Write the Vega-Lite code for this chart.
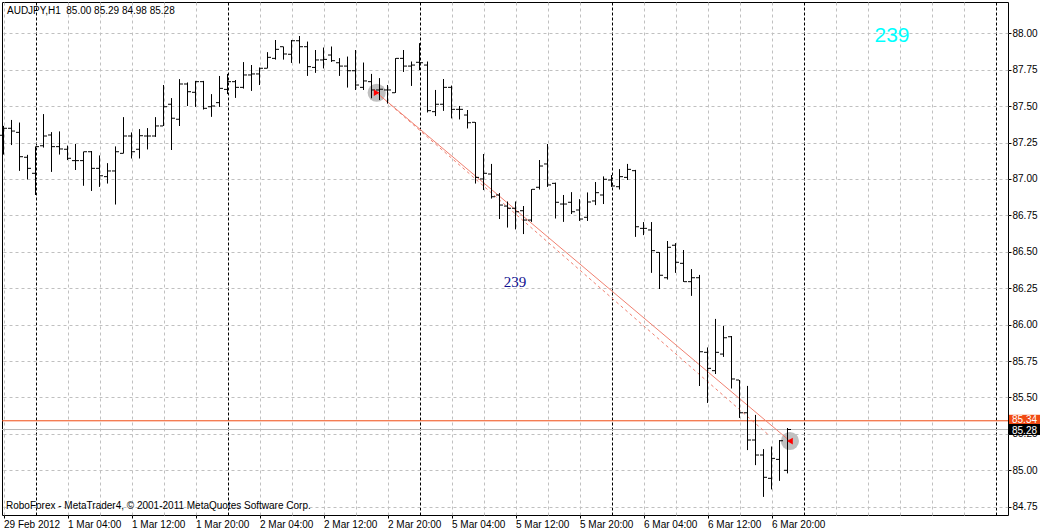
{
  "$schema": "https://vega.github.io/schema/vega-lite/v6.json",
  "width": 1006,
  "height": 513,
  "autosize": {"type": "none"},
  "padding": {"left": 2, "top": 2, "right": 38, "bottom": 17},
  "background": "white",
  "config": {
    "view": {"stroke": "#000000", "strokeWidth": 1},
    "font": "Liberation Sans"
  },
  "datasets": {
    "bars": [
      {"i":0,"o":87.300,"h":87.364,"l":87.169,"c":87.348},
      {"i":1,"o":87.348,"h":87.405,"l":87.233,"c":87.329},
      {"i":2,"o":87.320,"h":87.386,"l":87.057,"c":87.153},
      {"i":3,"o":87.149,"h":87.165,"l":86.998,"c":87.073},
      {"i":4,"o":87.039,"h":87.222,"l":86.890,"c":87.222},
      {"i":5,"o":87.228,"h":87.444,"l":87.217,"c":87.295},
      {"i":6,"o":87.302,"h":87.320,"l":87.050,"c":87.222},
      {"i":7,"o":87.222,"h":87.325,"l":87.169,"c":87.206},
      {"i":8,"o":87.204,"h":87.228,"l":87.130,"c":87.142},
      {"i":9,"o":87.126,"h":87.240,"l":87.062,"c":87.126},
      {"i":10,"o":87.126,"h":87.187,"l":86.955,"c":87.187},
      {"i":11,"o":87.187,"h":87.192,"l":86.919,"c":87.073},
      {"i":12,"o":87.073,"h":87.160,"l":86.947,"c":87.022},
      {"i":13,"o":87.016,"h":87.107,"l":86.970,"c":87.055},
      {"i":14,"o":87.055,"h":87.222,"l":86.826,"c":87.187},
      {"i":15,"o":87.176,"h":87.423,"l":87.176,"c":87.295},
      {"i":16,"o":87.295,"h":87.318,"l":87.142,"c":87.187},
      {"i":17,"o":87.204,"h":87.341,"l":87.142,"c":87.297},
      {"i":18,"o":87.295,"h":87.348,"l":87.204,"c":87.295},
      {"i":19,"o":87.295,"h":87.423,"l":87.290,"c":87.364},
      {"i":20,"o":87.364,"h":87.645,"l":87.364,"c":87.496},
      {"i":21,"o":87.513,"h":87.554,"l":87.199,"c":87.417},
      {"i":22,"o":87.410,"h":87.684,"l":87.364,"c":87.652},
      {"i":23,"o":87.652,"h":87.661,"l":87.501,"c":87.599},
      {"i":24,"o":87.595,"h":87.673,"l":87.496,"c":87.668},
      {"i":25,"o":87.668,"h":87.673,"l":87.478,"c":87.485},
      {"i":26,"o":87.496,"h":87.581,"l":87.428,"c":87.501},
      {"i":27,"o":87.524,"h":87.707,"l":87.496,"c":87.622},
      {"i":28,"o":87.615,"h":87.721,"l":87.583,"c":87.668},
      {"i":29,"o":87.668,"h":87.679,"l":87.558,"c":87.629},
      {"i":30,"o":87.629,"h":87.801,"l":87.622,"c":87.714},
      {"i":31,"o":87.714,"h":87.782,"l":87.606,"c":87.721},
      {"i":32,"o":87.721,"h":87.764,"l":87.645,"c":87.760},
      {"i":33,"o":87.760,"h":87.869,"l":87.760,"c":87.835},
      {"i":34,"o":87.828,"h":87.954,"l":87.821,"c":87.890},
      {"i":35,"o":87.908,"h":87.908,"l":87.821,"c":87.858},
      {"i":36,"o":87.856,"h":87.954,"l":87.798,"c":87.949},
      {"i":37,"o":87.949,"h":87.981,"l":87.794,"c":87.908},
      {"i":38,"o":87.908,"h":87.942,"l":87.709,"c":87.771},
      {"i":39,"o":87.766,"h":87.885,"l":87.730,"c":87.817},
      {"i":40,"o":87.817,"h":87.901,"l":87.760,"c":87.821},
      {"i":41,"o":87.851,"h":87.908,"l":87.805,"c":87.812},
      {"i":42,"o":87.798,"h":87.828,"l":87.709,"c":87.775},
      {"i":43,"o":87.775,"h":87.839,"l":87.629,"c":87.743},
      {"i":44,"o":87.743,"h":87.885,"l":87.611,"c":87.645},
      {"i":45,"o":87.629,"h":87.798,"l":87.611,"c":87.673},
      {"i":46,"o":87.668,"h":87.721,"l":87.554,"c":87.611},
      {"i":47,"o":87.611,"h":87.691,"l":87.542,"c":87.616},
      {"i":48,"o":87.611,"h":87.645,"l":87.519,"c":87.611},
      {"i":49,"o":87.592,"h":87.828,"l":87.592,"c":87.828},
      {"i":50,"o":87.828,"h":87.885,"l":87.736,"c":87.775},
      {"i":51,"o":87.775,"h":87.805,"l":87.640,"c":87.782},
      {"i":52,"o":87.801,"h":87.931,"l":87.748,"c":87.798},
      {"i":53,"o":87.782,"h":87.805,"l":87.458,"c":87.469},
      {"i":54,"o":87.462,"h":87.611,"l":87.432,"c":87.513},
      {"i":55,"o":87.513,"h":87.686,"l":87.469,"c":87.629},
      {"i":56,"o":87.629,"h":87.640,"l":87.417,"c":87.478},
      {"i":57,"o":87.478,"h":87.501,"l":87.410,"c":87.478},
      {"i":58,"o":87.439,"h":87.473,"l":87.348,"c":87.386},
      {"i":59,"o":87.389,"h":87.389,"l":86.970,"c":87.011},
      {"i":60,"o":87.000,"h":87.171,"l":86.924,"c":87.039},
      {"i":61,"o":87.034,"h":87.103,"l":86.867,"c":86.878},
      {"i":62,"o":86.890,"h":86.902,"l":86.725,"c":86.821},
      {"i":63,"o":86.814,"h":86.844,"l":86.668,"c":86.799},
      {"i":64,"o":86.799,"h":86.844,"l":86.655,"c":86.775},
      {"i":65,"o":86.782,"h":86.814,"l":86.622,"c":86.718},
      {"i":66,"o":86.718,"h":86.929,"l":86.707,"c":86.929},
      {"i":67,"o":86.943,"h":87.130,"l":86.929,"c":87.089},
      {"i":68,"o":87.103,"h":87.240,"l":86.947,"c":86.959},
      {"i":69,"o":86.970,"h":86.974,"l":86.730,"c":86.840},
      {"i":70,"o":86.828,"h":86.890,"l":86.707,"c":86.828},
      {"i":71,"o":86.840,"h":86.908,"l":86.760,"c":86.775},
      {"i":72,"o":86.787,"h":86.860,"l":86.713,"c":86.725},
      {"i":73,"o":86.737,"h":86.906,"l":86.713,"c":86.842},
      {"i":74,"o":86.849,"h":86.979,"l":86.821,"c":86.906},
      {"i":75,"o":86.890,"h":87.016,"l":86.828,"c":86.998},
      {"i":76,"o":86.993,"h":87.027,"l":86.947,"c":86.952},
      {"i":77,"o":86.947,"h":87.066,"l":86.929,"c":87.016},
      {"i":78,"o":87.011,"h":87.103,"l":86.993,"c":87.066},
      {"i":79,"o":87.057,"h":87.062,"l":86.604,"c":86.672},
      {"i":80,"o":86.661,"h":86.703,"l":86.615,"c":86.661},
      {"i":81,"o":86.650,"h":86.703,"l":86.357,"c":86.508},
      {"i":82,"o":86.496,"h":86.496,"l":86.245,"c":86.339},
      {"i":83,"o":86.322,"h":86.574,"l":86.311,"c":86.531},
      {"i":84,"o":86.545,"h":86.558,"l":86.357,"c":86.428},
      {"i":85,"o":86.421,"h":86.512,"l":86.295,"c":86.295},
      {"i":86,"o":86.295,"h":86.380,"l":86.199,"c":86.322},
      {"i":87,"o":86.322,"h":86.341,"l":85.579,"c":85.814},
      {"i":88,"o":85.810,"h":85.842,"l":85.464,"c":85.700},
      {"i":89,"o":85.684,"h":86.039,"l":85.661,"c":85.810},
      {"i":90,"o":85.798,"h":85.991,"l":85.780,"c":85.910},
      {"i":91,"o":85.917,"h":85.922,"l":85.563,"c":85.627},
      {"i":92,"o":85.620,"h":85.620,"l":85.361,"c":85.395},
      {"i":93,"o":85.395,"h":85.579,"l":85.139,"c":85.208},
      {"i":94,"o":85.208,"h":85.380,"l":85.036,"c":85.105},
      {"i":95,"o":85.105,"h":85.144,"l":84.819,"c":84.952},
      {"i":96,"o":84.945,"h":85.162,"l":84.870,"c":85.082},
      {"i":97,"o":85.075,"h":85.208,"l":84.929,"c":85.203},
      {"i":98,"o":85.000,"h":85.290,"l":84.980,"c":85.280}
    ],
    "levels": [
      {"level": "Ask", "price": 85.34, "label": "85.34"},
      {"level": "Bid", "price": 85.28, "label": "85.28"}
    ],
    "trade": [
      {"point": "open", "i": 46.65, "price": 87.592},
      {"point": "close", "i": 98.3, "price": 85.201}
    ],
    "trade2": [
      {"point": "open", "i": 46.65, "price": 87.592},
      {"point": "end", "i": 95.8, "price": 85.235}
    ],
    "notes": [
      {"id": "symbol", "text": "AUDJPY,H1\u00a0 85.00 85.29 84.98 85.28"},
      {"id": "footer", "text": "RoboForex - MetaTrader4, © 2001-2011 MetaQuotes Software Corp."},
      {"id": "count", "text": "239"},
      {"id": "count2", "text": "239"}
    ]
  },
  "layer": [
    {
      "data": {"name": "bars"},
      "mark": {"type": "rule", "color": "#000000", "strokeWidth": 1},
      "encoding": {
        "x": {
          "field": "i", "type": "quantitative",
          "scale": {"domain": [-0.1875, 125.5625], "nice": false, "zero": false},
          "axis": {
            "values": [0,4,8,12,16,20,24,28,32,36,40,44,48,52,56,60,64,68,72,76,80,84,88,92,96,100,104,108,112,116,120,124],
            "tickCount": 200,
            "title": null,
            "domain": false,
            "grid": true,
            "gridColor": {"condition": {"test": "datum.value % 24 === 4", "value": "#000000"}, "value": "#c0c0c0"},
            "gridDash": {"condition": {"test": "datum.value % 24 === 4", "value": [3, 2]}, "value": [3, 3]},
            "gridWidth": 1,
            "ticks": true,
            "tickSize": 3,
            "tickColor": {"condition": {"test": "datum.value % 8 === 0 && datum.value <= 96", "value": "#000000"}, "value": "transparent"},
            "labelExpr": "(datum.value % 8 === 0 && datum.value <= 96) ? ['29 Feb 2012','1 Mar 04:00','1 Mar 12:00','1 Mar 20:00','2 Mar 04:00','2 Mar 12:00','2 Mar 20:00','5 Mar 04:00','5 Mar 12:00','5 Mar 20:00','6 Mar 04:00','6 Mar 12:00','6 Mar 20:00'][datum.value / 8] : ''",
            "labelAlign": "left",
            "labelBaseline": "top",
            "labelPadding": 1,
            "labelFont": "Liberation Sans",
            "labelFontSize": 10,
            "labelColor": "#000000",
            "labelBound": false,
            "labelFlush": false,
            "labelOverlap": false
          }
        },
        "y": {
          "field": "l", "type": "quantitative",
          "scale": {"domain": [84.6932, 88.2149], "nice": false, "zero": false},
          "axis": {
            "orient": "right",
            "values": [84.75, 85, 85.25, 85.5, 85.75, 86, 86.25, 86.5, 86.75, 87, 87.25, 87.5, 87.75, 88],
            "tickCount": 200,
            "format": ".2f",
            "title": null,
            "domain": false,
            "grid": true,
            "gridColor": "#c0c0c0",
            "gridDash": [3, 3],
            "gridWidth": 1,
            "ticks": true,
            "tickSize": 3,
            "tickColor": "#000000",
            "labelPadding": 1,
            "labelFont": "Liberation Sans",
            "labelFontSize": 10,
            "labelColor": "#000000",
            "labelBaseline": "middle",
            "labelBound": false,
            "labelFlush": false,
            "labelOverlap": false
          }
        },
        "y2": {"field": "h"}
      }
    },
    {
      "data": {"name": "levels"},
      "transform": [{"filter": "datum.level === 'Ask'"}],
      "mark": {"type": "rule", "color": "#f04a12", "strokeWidth": 1},
      "encoding": {
        "y": {"field": "price", "type": "quantitative"}
      }
    },
    {
      "data": {"name": "levels"},
      "transform": [{"filter": "datum.level === 'Bid'"}],
      "mark": {"type": "rule", "color": "#b8b8b8", "strokeWidth": 1},
      "encoding": {
        "y": {"field": "price", "type": "quantitative"}
      }
    },
    {
      "data": {"name": "trade"},
      "mark": {"type": "point", "filled": true, "color": "#c0c0c0", "opacity": 1, "size": 330},
      "encoding": {
        "x": {"field": "i", "type": "quantitative"},
        "y": {"field": "price", "type": "quantitative"}
      }
    },
    {
      "data": {"name": "trade"},
      "mark": {"type": "line", "color": "#f08070", "strokeWidth": 1},
      "encoding": {
        "x": {"field": "i", "type": "quantitative"},
        "y": {"field": "price", "type": "quantitative"}
      }
    },
    {
      "data": {"name": "trade2"},
      "mark": {"type": "line", "color": "#f08070", "strokeWidth": 1, "strokeDash": [3, 3]},
      "encoding": {
        "x": {"field": "i", "type": "quantitative"},
        "y": {"field": "price", "type": "quantitative"}
      }
    },
    {
      "data": {"name": "bars"},
      "mark": {"type": "rule", "color": "#000000", "strokeWidth": 1},
      "encoding": {
        "x": {"field": "i", "type": "quantitative"},
        "y": {"field": "l", "type": "quantitative"},
        "y2": {"field": "h"}
      }
    },
    {
      "data": {"name": "bars"},
      "mark": {"type": "tick", "orient": "horizontal", "size": 3, "thickness": 1, "color": "#000000", "opacity": 1, "xOffset": -2},
      "encoding": {
        "x": {"field": "i", "type": "quantitative"},
        "y": {"field": "o", "type": "quantitative"}
      }
    },
    {
      "data": {"name": "bars"},
      "mark": {"type": "tick", "orient": "horizontal", "size": 3, "thickness": 1, "color": "#000000", "opacity": 1, "xOffset": 2},
      "encoding": {
        "x": {"field": "i", "type": "quantitative"},
        "y": {"field": "c", "type": "quantitative"}
      }
    },
    {
      "data": {"name": "trade"},
      "mark": {"type": "point", "filled": true, "color": "#ff0000", "opacity": 1, "size": 45},
      "encoding": {
        "x": {"field": "i", "type": "quantitative"},
        "y": {"field": "price", "type": "quantitative"},
        "shape": {"field": "point", "type": "nominal", "scale": {"domain": ["open", "close"], "range": ["triangle-right", "triangle-left"]}, "legend": null}
      }
    },
    {
      "data": {"name": "levels"},
      "transform": [{"filter": "datum.level === 'Ask'"}],
      "mark": {"type": "tick", "orient": "horizontal", "size": 31, "thickness": 12, "color": "#f04a12", "opacity": 1},
      "encoding": {
        "x": {"datum": 127.625, "type": "quantitative"},
        "y": {"field": "price", "type": "quantitative"}
      }
    },
    {
      "data": {"name": "levels"},
      "transform": [{"filter": "datum.level === 'Bid'"}],
      "mark": {"type": "tick", "orient": "horizontal", "size": 31, "thickness": 11, "color": "#000000", "opacity": 1},
      "encoding": {
        "x": {"datum": 127.625, "type": "quantitative"},
        "y": {"field": "price", "type": "quantitative"}
      }
    },
    {
      "data": {"name": "levels"},
      "transform": [{"filter": "datum.level === 'Ask'"}],
      "mark": {"type": "text", "align": "left", "baseline": "middle", "font": "Liberation Sans", "fontSize": 10, "color": "#ffffff", "dy": -1},
      "encoding": {
        "x": {"datum": 126.0625, "type": "quantitative"},
        "y": {"field": "price", "type": "quantitative"},
        "text": {"field": "label"}
      }
    },
    {
      "data": {"name": "levels"},
      "transform": [{"filter": "datum.level === 'Bid'"}],
      "mark": {"type": "text", "align": "left", "baseline": "middle", "font": "Liberation Sans", "fontSize": 10, "color": "#ffffff", "dy": 1},
      "encoding": {
        "x": {"datum": 126.0625, "type": "quantitative"},
        "y": {"field": "price", "type": "quantitative"},
        "text": {"field": "label"}
      }
    },
    {
      "data": {"name": "notes"},
      "transform": [{"filter": "datum.id === 'symbol'"}],
      "mark": {"type": "text", "align": "left", "baseline": "alphabetic", "font": "Liberation Sans", "fontSize": 10, "color": "#000000"},
      "encoding": {
        "x": {"datum": 0.4375, "type": "quantitative"},
        "y": {"datum": 88.1325, "type": "quantitative"},
        "text": {"field": "text"}
      }
    },
    {
      "data": {"name": "notes"},
      "transform": [{"filter": "datum.id === 'footer'"}],
      "mark": {"type": "text", "align": "left", "baseline": "alphabetic", "font": "Liberation Sans", "fontSize": 10, "color": "#000000"},
      "encoding": {
        "x": {"datum": 0.3125, "type": "quantitative"},
        "y": {"datum": 84.734, "type": "quantitative"},
        "text": {"field": "text"}
      }
    },
    {
      "data": {"name": "notes"},
      "transform": [{"filter": "datum.id === 'count'"}],
      "mark": {"type": "text", "align": "center", "baseline": "alphabetic", "font": "Liberation Sans", "fontSize": 21, "color": "#00ffff"},
      "encoding": {
        "x": {"datum": 111.0625, "type": "quantitative"},
        "y": {"datum": 87.94, "type": "quantitative"},
        "text": {"field": "text"}
      }
    },
    {
      "data": {"name": "notes"},
      "transform": [{"filter": "datum.id === 'count2'"}],
      "mark": {"type": "text", "align": "center", "baseline": "alphabetic", "font": "Liberation Serif", "fontSize": 15, "color": "#101090"},
      "encoding": {
        "x": {"datum": 63.94, "type": "quantitative"},
        "y": {"datum": 86.258, "type": "quantitative"},
        "text": {"field": "text"}
      }
    }
  ]
}
